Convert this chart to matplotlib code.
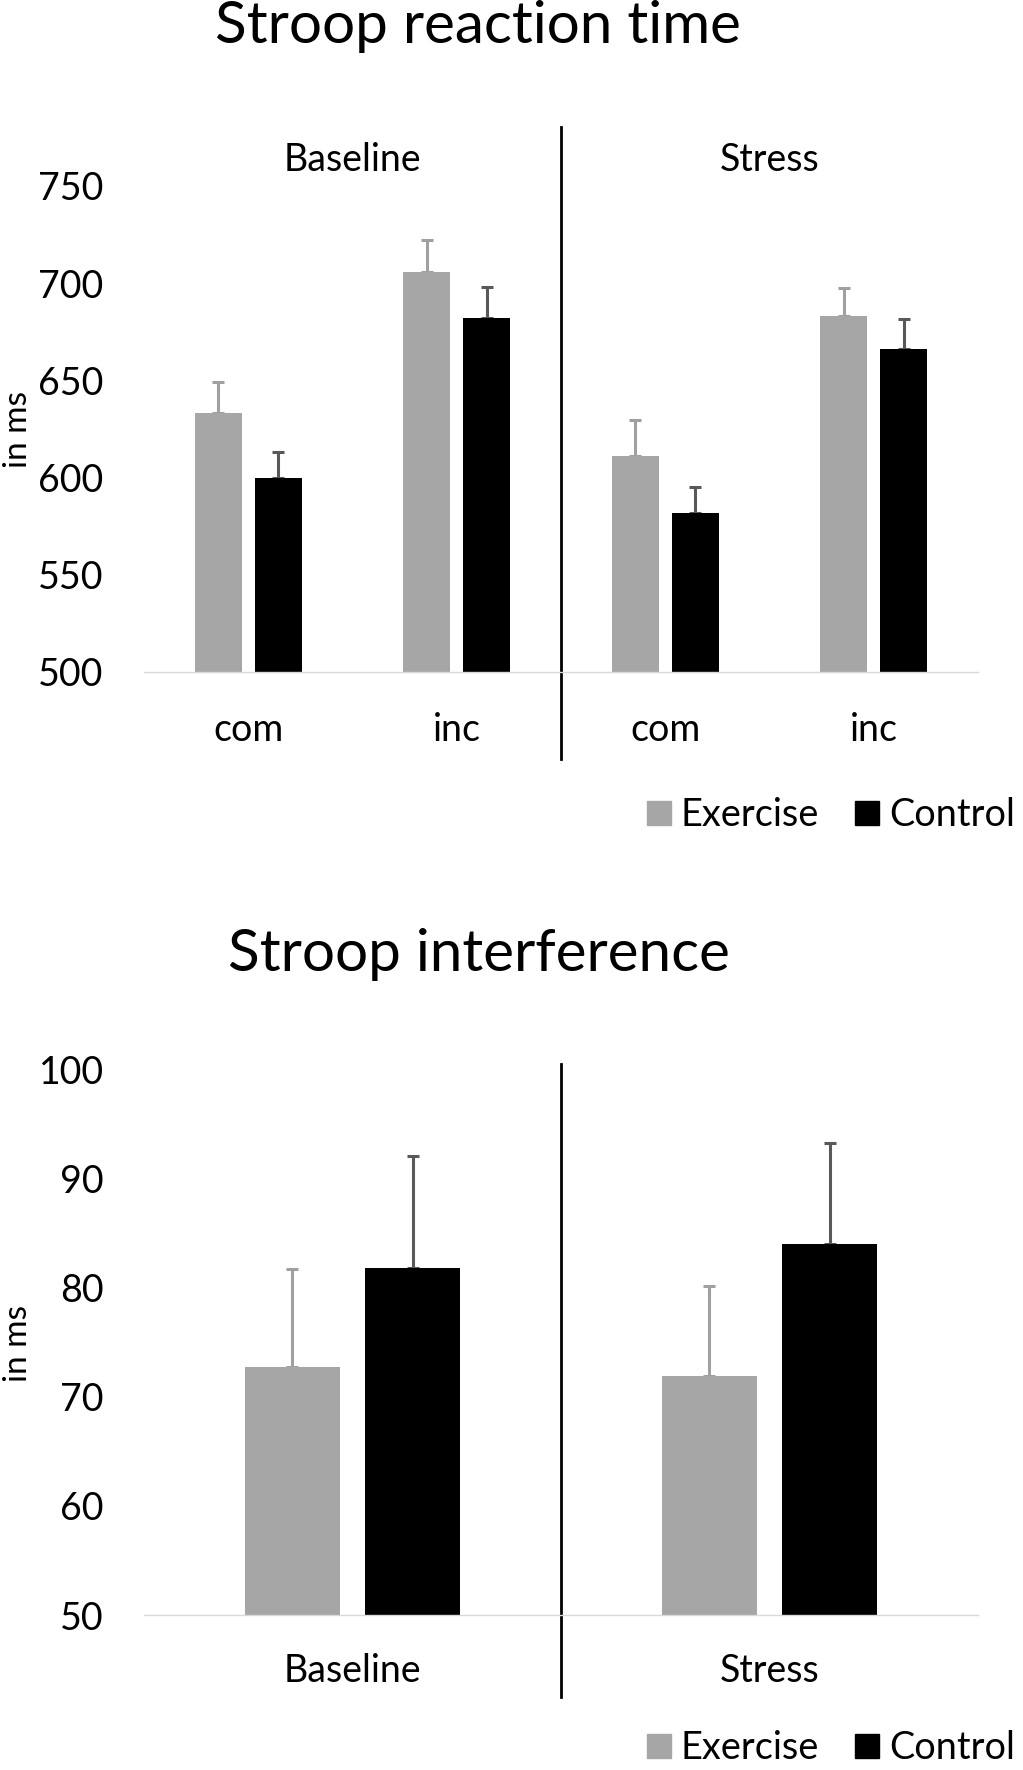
import matplotlib
matplotlib.use("Agg")
import matplotlib.pyplot as plt
from matplotlib.patches import Patch
import numpy as np

plt.rcParams['font.family'] = ['Lato', 'DejaVu Sans']

# ---------------- data ----------------
conditions = ['Baseline', 'Stress']
rt_categories = ['com', 'inc', 'com', 'inc']
series = ['Exercise', 'Control']

exercise_rt = [633, 706, 611, 683]
exercise_rt_err = [16, 16, 18.5, 14.5]
control_rt = [600, 682, 582, 666]
control_rt_err = [13, 16, 13, 15.5]

exercise_int = [72.7, 71.9]
exercise_int_err = [9.0, 8.2]
control_int = [81.8, 84.0]
control_int_err = [10.2, 9.2]

rt_ticks = [500, 550, 600, 650, 700, 750]
int_ticks = [50, 60, 70, 80, 90, 100]

# ---------------- style ----------------
EX_COLOR = '#a6a6a6'
CT_COLOR = '#000000'
EX_ERR = '#a0a0a0'
CT_ERR = '#595959'
W, H = 1023, 1770
FS = 27
TITLE_FS = 42

fig = plt.figure(figsize=(W / 100, H / 100), dpi=100)


def px_axes(left, top, right, bottom):
    return fig.add_axes([left / W, 1 - bottom / H, (right - left) / W, (bottom - top) / H])


def style_axes(ax, ticks, xpad):
    ax.set_ylim(ticks[0], ticks[-1])
    ax.set_yticks(ticks)
    ax.tick_params(axis='both', length=0, labelsize=FS)
    ax.tick_params(axis='y', pad=29)
    ax.tick_params(axis='x', pad=xpad)
    for s in ['top', 'right', 'left']:
        ax.spines[s].set_visible(False)
    ax.spines['bottom'].set_color('#d9d9d9')
    ax.spines['bottom'].set_linewidth(1.0)
    ax.set_ylabel('in ms', fontsize=24, labelpad=0)


def draw_bars(ax, ex, ex_err, ct, ct_err, n):
    x = np.arange(n)
    width = 0.226
    off = 0.144
    ax.bar(x - off, ex, width, color=EX_COLOR, zorder=2)
    ax.bar(x + off, ct, width, color=CT_COLOR, zorder=2)
    ax.errorbar(x - off, ex, yerr=[np.zeros(n), ex_err], fmt='none', ecolor=EX_ERR,
                elinewidth=2.2, capsize=4.5, capthick=2.2, zorder=1)
    ax.errorbar(x + off, ct, yerr=[np.zeros(n), ct_err], fmt='none', ecolor=CT_ERR,
                elinewidth=2.2, capsize=4.5, capthick=2.2, zorder=1)
    ax.set_xlim(-0.5, n - 0.5)
    return x


# ---------------- top chart ----------------
ax1 = px_axes(144, 186, 978, 672)
x1 = draw_bars(ax1, exercise_rt, exercise_rt_err, control_rt, control_rt_err, len(rt_categories))
style_axes(ax1, rt_ticks, 29)
ax1.set_xticks(x1)
ax1.set_xticklabels(rt_categories)
# separator
ax1.plot([1.5, 1.5], [(672 - 759) / 486, (672 - 127) / 486], color='black', lw=2,
         transform=ax1.get_xaxis_transform(), clip_on=False)
for i, c in enumerate(conditions):
    ax1.text(0.5 + 2 * i, (672 - 160) / 486, c, transform=ax1.get_xaxis_transform(),
             ha='center', va='center', fontsize=FS)

fig.text(478 / W, 1 - 43 / H, 'Stroop reaction time', ha='center', va='baseline', fontsize=TITLE_FS)

handles = [Patch(color=EX_COLOR), Patch(color=CT_COLOR)]
leg_kw = dict(loc='center left', frameon=False, ncol=2, fontsize=27.3, handlelength=0.64,
              handleheight=0.6, handletextpad=0.25, columnspacing=0.95, borderpad=0,
              borderaxespad=0)
fig.legend(handles, series, bbox_to_anchor=(647 / W, 1 - 815 / H), **leg_kw)

# ---------------- bottom chart ----------------
ax2 = px_axes(144, 1069, 978, 1615)
x2 = draw_bars(ax2, exercise_int, exercise_int_err, control_int, control_int_err, len(conditions))
style_axes(ax2, int_ticks, 27)
ax2.set_xticks(x2)
ax2.set_xticklabels(conditions)
ax2.plot([0.5, 0.5], [(1615 - 1697) / 546, (1615 - 1064) / 546], color='black', lw=2,
         transform=ax2.get_xaxis_transform(), clip_on=False)
fig.text(479 / W, 1 - 971 / H, 'Stroop interference', ha='center', va='baseline', fontsize=TITLE_FS)
fig.legend(handles, series, bbox_to_anchor=(647 / W, 1 - 1748 / H), **leg_kw)

# y-labels positioned in figure pixels
for ax, yc, top, h in [(ax1, 430, 186, 486), (ax2, 1344, 1069, 546)]:
    ax.yaxis.set_label_coords((18 - 144) / 834, (top + h - yc) / h)
    ax.yaxis.label.set_va('center')

fig.savefig('out.png', dpi=100)
